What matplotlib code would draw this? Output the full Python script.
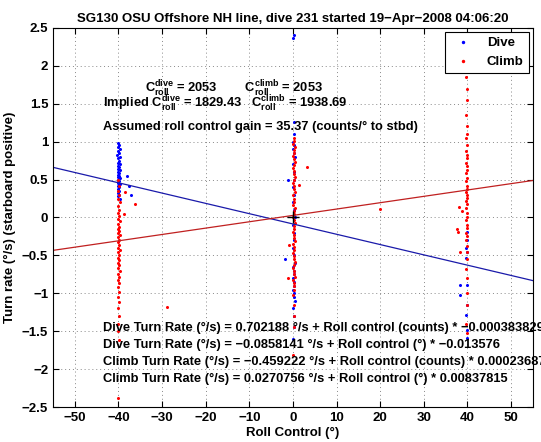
import matplotlib
matplotlib.use("Agg")
import matplotlib.pyplot as plt
import numpy as np

plt.rcParams['font.family'] = ['Liberation Sans', 'DejaVu Sans']
plt.rcParams['font.weight'] = 'bold'
plt.rcParams['axes.titleweight'] = 'bold'
plt.rcParams['axes.labelweight'] = 'bold'
plt.rcParams['mathtext.fontset'] = 'custom'
plt.rcParams['mathtext.rm'] = 'Liberation Sans:bold'
plt.rcParams['mathtext.bf'] = 'Liberation Sans:bold'
plt.rcParams['mathtext.it'] = 'Liberation Sans:bold'

# dive points (roll control deg, turn rate deg/s)
dive_x = [-40.2, -39.8, -40.0, -39.6, -40.1, -39.9, -40.3, -39.7, -40.0, -39.8,
          -40.2, -39.6, -40.0, -39.9, -40.1, -39.7, -40.0, -39.8, -40.2, -39.9,
          -40.0, -39.6, -40.1, -39.8, -40.0, -39.7, -40.2, -39.9, -40.0, -39.8,
          -40.1, -39.9, -40.0, -39.7, -37.6, -37.2, -38.0,
          0.2, 0.1, 0.3, 0.2, 0.1, 0.3, 0.0, 0.2, 0.4, 0.1, 0.3, 0.2, 0.0, 0.3,
          0.1, 0.2, 0.4, 0.0, 0.2, 0.3, 0.1, 0.2, 0.4, 0.1, 0.3, 0.2, 0.0, 0.3,
          0.2, 0.1, 0.3, 0.2, 0.4, 0.1, 0.2, 0.3, 0.1, -1.1, -1.8,
          39.8, 39.9, 39.7, 39.8, 39.6, 38.2, 39.8, 39.9, 39.7, 38.2, 39.8, 39.8]
dive_y = [0.98, 0.95, 0.93, 0.90, 0.87, 0.85, 0.82, 0.80, 0.78, 0.75,
          0.72, 0.70, 0.68, 0.66, 0.64, 0.62, 0.60, 0.58, 0.56, 0.55,
          0.53, 0.52, 0.50, 0.48, 0.46, 0.44, 0.42, 0.40, 0.38, 0.35,
          0.32, 0.30, 0.28, 0.25, 0.42, 0.30, 0.55,
          2.40, 2.37, 1.26, 1.10, 1.00, 0.95, 0.90, 0.85, 0.80, 0.70, 0.60, 0.50,
          0.40, 0.30, 0.20, 0.10, 0.00, -0.10, -0.20, -0.30, -0.40, -0.50, -0.60,
          -0.65, -0.70, -0.75, -0.80, -0.85, -0.90, -0.95, -1.00, -1.05, -1.10,
          -1.20, -1.30, -1.45, -1.60, 0.49, -0.55,
          -0.19, -0.30, -0.40, -0.46, -0.53, -0.89, -0.89, -1.15, -1.28, -1.02, -1.48, -1.59]

# climb points
climb_x = [-40.0, -39.8, -40.1, -39.9, -40.2, -39.7, -40.0, -39.8, -40.1, -39.9,
           -40.0, -39.6, -40.2, -39.8, -40.0, -39.9, -40.1, -39.7, -40.0, -39.8,
           -40.2, -39.9, -40.0, -39.7, -40.1, -39.8, -40.0, -39.9, -40.2, -39.8,
           -40.0, -39.7, -40.1, -39.9, -40.0, -39.8, -40.2, -39.9, -40.0, -39.8,
           -40.1, -39.9, -40.0, -40.2, -39.9, -40.0, -38.4, -36.2, -28.9, -38.8,
           0.2, 0.3, 0.1, 0.4, 0.2, 0.3, 0.1, 0.2, 0.4, 0.3, 0.1, 0.2, 0.3, 0.4,
           0.2, 0.1, 0.3, 0.2, 0.4, 0.1, 0.3, 0.2, 0.1, 0.4, 0.2, 0.3, 0.1, 0.2,
           0.4, 0.3, 0.2, 0.1, 0.3, 0.2, 0.4, 0.1, 0.2, 0.3, 0.1, 0.2, 0.3, 0.4,
           0.2, 0.1, 0.3, 0.2, 0.4, 0.1, 0.3, 0.2, 0.2, 0.1, 0.3, 0.2, 0.2, 0.1,
           3.2, 1.4, 20.0, -1.2, -0.9,
           39.8, 39.7, 39.9, 39.8, 39.6, 39.8, 39.9, 39.7, 39.8, 39.6,
           39.9, 39.8, 39.7, 39.8, 39.9, 39.6, 39.8, 39.7, 39.9, 39.8,
           39.6, 39.8, 39.9, 39.7, 39.8, 39.6, 39.9, 39.8, 39.7, 39.8,
           39.9, 39.6, 39.8, 39.7, 39.8, 39.9, 39.8, 39.7, 39.8, 39.9,
           39.8, 39.7, 39.8, 37.7, 37.8, 38.0, 38.4, 38.7]
climb_y = [0.50, 0.42, 0.35, 0.30, 0.25, 0.20, 0.15, 0.10, 0.06, 0.02,
           -0.02, -0.05, -0.08, -0.12, -0.15, -0.18, -0.20, -0.23, -0.26, -0.30,
           -0.33, -0.36, -0.40, -0.43, -0.46, -0.50, -0.53, -0.56, -0.60, -0.63,
           -0.66, -0.70, -0.74, -0.78, -0.82, -0.87, -0.92, -0.98, -1.05, -1.12,
           -1.20, -1.30, -1.40, -1.50, -1.62, -2.38, 0.33, 0.18, -1.18, 0.05,
           1.05, 1.01, 0.97, 0.93, 0.89, 0.85, 0.81, 0.77, 0.73, 0.69, 0.65, 0.61,
           0.57, 0.53, 0.49, 0.45, 0.41, 0.37, 0.33, 0.29, 0.25, 0.21, 0.17, 0.13,
           0.09, 0.05, 0.01, -0.03, -0.07, -0.11, -0.15, -0.19, -0.23, -0.27,
           -0.31, -0.35, -0.39, -0.43, -0.47, -0.51, -0.55, -0.59, -0.63, -0.67,
           -0.71, -0.75, -0.79, -0.83, -0.87, -0.91, -0.95, -1.02, -1.15, -1.30,
           -1.45, -1.81,
           0.67, 0.43, 0.11, -0.80, -0.36,
           1.93, 1.85, 1.70, 1.55, 1.35, 1.20, 1.10, 1.05, 0.95, 0.88,
           0.82, 0.78, 0.72, 0.68, 0.62, 0.58, 0.52, 0.48, 0.42, 0.38,
           0.34, 0.30, 0.26, 0.22, 0.18, 0.12, 0.06, 0.00, -0.04, -0.10,
           -0.14, -0.20, -0.25, -0.30, -0.38, -0.45, -0.55, -0.68, -0.80, -1.00,
           -1.15, -1.40, -1.52, -0.15, -0.19, 0.14, -0.45, 0.08]

# linear fits: turn rate = intercept + slope * roll control (deg)
dive_fit = (-0.0858141, -0.013576)
climb_fit = (0.0270756, 0.00837815)
x_range = [-55, 55]

fig = plt.figure(figsize=(5.41, 4.42), dpi=100)
ax = fig.add_axes([0.098, 0.079, 0.887, 0.858])

ax.plot(dive_x, dive_y, '.', color='#0000ff', markersize=2.4, label='Dive')
ax.plot(climb_x, climb_y, '.', color='#ff0000', markersize=2.4, label='Climb')
xr = np.array(x_range)
ax.plot(xr, dive_fit[0] + dive_fit[1] * xr, color='#1a1aaa', lw=0.9)
ax.plot(xr, climb_fit[0] + climb_fit[1] * xr, color='#c02020', lw=0.9)
ax.plot([0], [0], '+', color='k', markersize=8, mew=1)

ax.set_xlim(-55, 55)
ax.set_ylim(-2.5, 2.5)
ax.set_xticks(np.arange(-50, 51, 10))
ax.set_yticks(np.arange(-2.5, 2.51, 0.5))
ax.set_yticklabels(['\u22122.5', '\u22122', '\u22121.5', '\u22121', '\u22120.5', '0',
                    '0.5', '1', '1.5', '2', '2.5'])
ax.grid(True, linestyle=(0, (1, 3)), color='#888888', lw=0.7)
ax.tick_params(direction='in', top=True, right=True, labelsize=9.5, length=4)
for lab in ax.get_xticklabels() + ax.get_yticklabels():
    lab.set_fontweight('bold')
for s in ax.spines.values():
    s.set_linewidth(0.8)

ax.set_title('SG130 OSU Offshore NH line, dive 231 started 19\u2212Apr\u22122008 04:06:20',
             fontsize=9.5, pad=4)
ax.set_xlabel('Roll Control (\u00b0)', fontsize=9.5, labelpad=2)
ax.set_ylabel('Turn rate (\u00b0/s) (starboard positive)', fontsize=9.5, labelpad=4)

fs = 9.3
ax.text(-34, 1.70, r'$\mathrm{C}_{\mathrm{roll}}^{\mathrm{dive}}$ = 2053        '
        r'$\mathrm{C}_{\mathrm{roll}}^{\mathrm{climb}}$ = 2053', fontsize=fs, va='center')
ax.text(-43.6, 1.50, r'Implied $\mathrm{C}_{\mathrm{roll}}^{\mathrm{dive}}$ = 1829.43   '
        r'$\mathrm{C}_{\mathrm{roll}}^{\mathrm{climb}}$ = 1938.69', fontsize=fs, va='center')
ax.text(-43.6, 1.19, 'Assumed roll control gain = 35.37 (counts/\u00b0 to stbd)',
        fontsize=fs, va='center')
eqs = ['Dive Turn Rate (\u00b0/s) = 0.702188 \u00b0/s + Roll control (counts) * \u22120.000383829',
       'Dive Turn Rate (\u00b0/s) = \u22120.0858141 \u00b0/s + Roll control (\u00b0) * \u22120.013576',
       'Climb Turn Rate (\u00b0/s) = \u22120.459222 \u00b0/s + Roll control (counts) * 0.000236877',
       'Climb Turn Rate (\u00b0/s) = 0.0270756 \u00b0/s + Roll control (\u00b0) * 0.00837815']
for i, s in enumerate(eqs):
    ax.text(-43.6, -1.46 - 0.225 * i, s, fontsize=fs, va='center', clip_on=False)

leg = ax.legend(loc='upper right', fontsize=9.5, fancybox=False, framealpha=1,
                edgecolor='k', borderaxespad=0.3, handletextpad=0.8, markerscale=1.2)
leg.get_frame().set_linewidth(0.8)

fig.savefig('out.png', dpi=100)
